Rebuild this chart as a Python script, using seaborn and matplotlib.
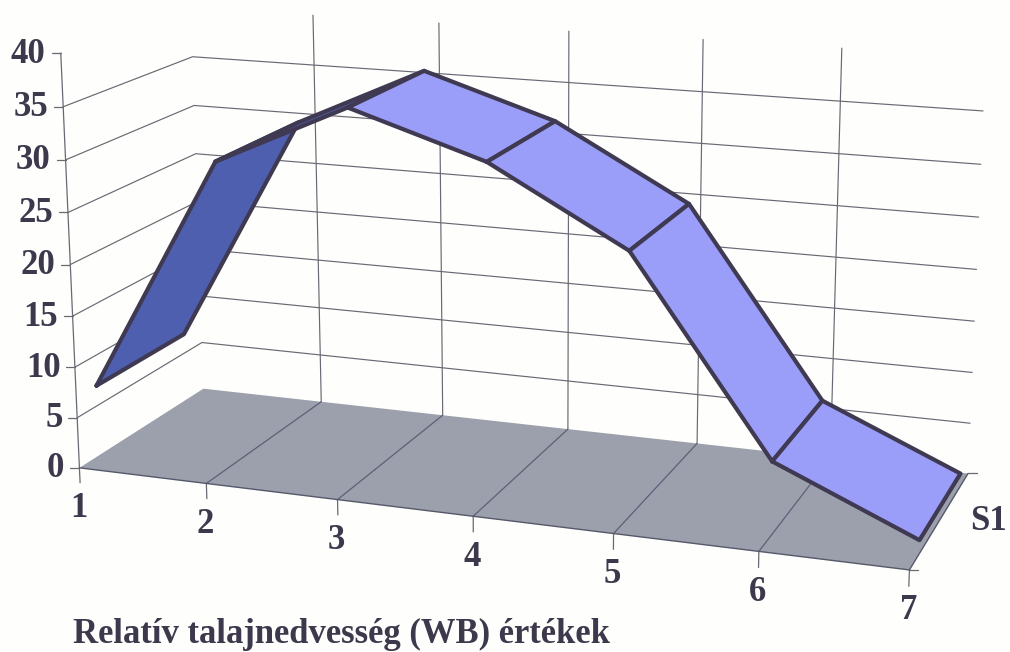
import numpy as np
import pandas as pd
import matplotlib
matplotlib.use("Agg")
import matplotlib.pyplot as plt
import seaborn as sns

categories = ["1", "2", "3", "4", "5", "6", "7"]
series_name = "S1"
s1_values = [7.0, 30.0, 36.0, 32.0, 25.0, 7.0, 1.3]
value_ticks = [0, 5, 10, 15, 20, 25, 30, 35, 40]
xlabel_text = "Relatív talajnedvesség (WB) értékek"

# Camera calibration: scene position (category, depth, value) -> picture pixel
cal_scene = [(0, 0, 0), (6, 0, 0), (0, 1, 0), (6, 1, 0), (0, 0, 40), (0, 1, 35), (6, 1, 35),
             (1, 1, 40), (5, 1, 40), (3, 1, 0), (3, 0, 0), (1, 0, 0), (5, 0, 0), (1, 1, 0)]
cal_pixel = [(79, 468), (910, 570), (203, 391), (968, 474), (61, 53), (192, 57), (982, 110),
             (313, 15), (843, 49), (568, 428), (473, 515), (207, 483), (758, 553), (322, 400)]
RIB_FRONT, RIB_BACK = 0.15, 0.85

rows = []
for (u, d, z), (px, py) in zip(cal_scene, cal_pixel):
    w = [u, d, z, 1.0]
    rows.append(w + [0, 0, 0, 0] + [-px * c for c in w])
    rows.append([0, 0, 0, 0] + w + [-py * c for c in w])
_, _, vt = np.linalg.svd(np.array(rows, float))
CAM = vt[-1].reshape(3, 4)


def project(u, d, z):
    h = CAM @ np.array([u, d, z, 1.0])
    return h[0] / h[2], h[1] / h[2]


sns.set_theme(style="white", rc={"axes.facecolor": "#fefefc", "figure.facecolor": "#fefefc"})
INK = "#3d384c"
GRID = "#6a6873"
plt.rcParams["font.family"] = ["Liberation Serif", "DejaVu Serif"]

fig = plt.figure(figsize=(10.10, 6.52), dpi=100)
ax = fig.add_axes([0, 0, 1, 1])


def draw_segments(segments, color, lw, zorder):
    recs = []
    for i, seg in enumerate(segments):
        for p in seg:
            x, y = project(*p)
            recs.append({"seg": i, "px": x, "py": y})
    sns.lineplot(data=pd.DataFrame(recs), x="px", y="py", units="seg", estimator=None, sort=False,
                 color=color, lw=lw, zorder=zorder, ax=ax, legend=False,
                 solid_capstyle="round", solid_joinstyle="round")


n = len(categories) - 1
# floor
floor = [project(0, 0, 0), project(n, 0, 0), project(n, 1, 0), project(0, 1, 0)]
ax.fill(*zip(*floor), color="#9ca0ac", lw=0, zorder=2)

# wall grid
levels = [v for v in value_ticks if 0 < v < max(value_ticks)]
wall = [[(0, 0, v), (0, 1, v), (n, 1, v)] for v in levels]
wall += [[(u, 1, 0), (u, 1, max(value_ticks))] for u in range(1, n)]
draw_segments(wall, GRID, 0.85, 1)
# axis and floor lines
draw_segments([[(0, 0, 0), (0, 0, max(value_ticks))]], GRID, 0.9, 1)
draw_segments([[(u, 0, 0), (u, 1, 0)] for u in range(1, n)], "#5c6078", 0.9, 3)
draw_segments([[(0, 0, 0), (n, 0, 0)], [(n, 0, 0), (n, 1, 0)]], "#55586a", 1.0, 3)
draw_segments([[(u, 0, 0), (u, 0, -1.5)] for u in range(n + 1)], GRID, 0.9, 1)

# value ticks and labels
for v, lab_dx in zip(value_ticks, [15, 14, 14, 15, 15, 15, 15, 15, 16]):
    x, y = project(0, 0, v)
    ax.plot([x - 9, x], [y, y], color=GRID, lw=0.9, zorder=1)
    ax.text(x - lab_dx, y + 1, str(v), ha="right", va="center", fontsize=25,
            fontweight="bold", color=INK)
# depth tick + series label
x, y = project(n, 1, 0)
ax.plot([x, x + 9], [y, y], color=GRID, lw=0.9, zorder=1)
x7, y7 = project(n, 0, 0)
ax.plot([x7, x7 + 9], [y7, y7], color=GRID, lw=0.9, zorder=1)
ax.text(x + 20, y + 48, series_name, ha="center", va="center", fontsize=25,
        fontweight="bold", color=INK)

# category labels
for u, lab in enumerate(categories):
    x, y = project(u, 0, 0)
    ax.text(x - 1, y + 41, lab, ha="center", va="center", fontsize=25, fontweight="bold", color=INK)

# ribbon
for i in range(n):
    a, b = s1_values[i], s1_values[i + 1]
    quad = [(i, RIB_FRONT, a), (i + 1, RIB_FRONT, b), (i + 1, RIB_BACK, b), (i, RIB_BACK, a)]
    col = "#4f5fb0" if i < 2 else "#9a9ef8"
    ax.fill(*zip(*[project(*p) for p in quad]), color=col, lw=0, zorder=4 + 0.1 * i)
    draw_segments([quad + [quad[0]]], "#3f3a52", 3.0, 4.05 + 0.1 * i)

ax.text(73, 634, xlabel_text, ha="left", va="center", fontsize=24.9, fontweight="bold", color=INK)

ax.set_xlim(0, 1010)
ax.set_ylim(652, 0)
ax.axis("off")
fig.savefig("out.png", dpi=100, facecolor=fig.get_facecolor())
